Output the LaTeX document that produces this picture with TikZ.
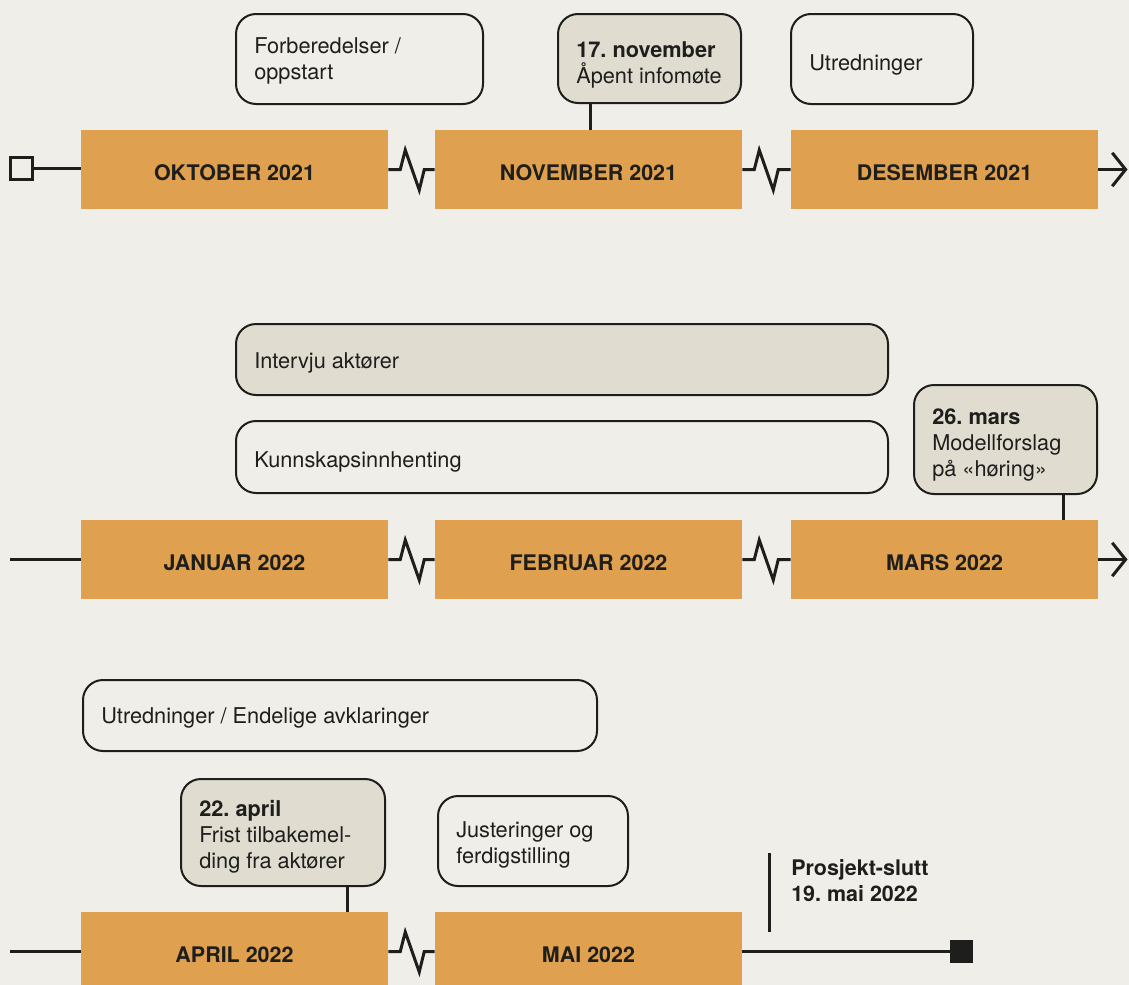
\documentclass[tikz,border=0pt]{standalone}
\usepackage{fontspec}
\setmainfont{TeX Gyre Heros}
\usetikzlibrary{arrows.meta}
\frenchspacing
\definecolor{bg}{HTML}{EFEEE8}
\definecolor{orng}{HTML}{DFA04F}
\definecolor{grayfill}{HTML}{E0DDD0}
\definecolor{ink}{HTML}{1E1E1C}
% box: [dy] name, cx, cy, w, h, style, text
\newcommand\mkbox[8][4]{%
  \pgfmathsetlengthmacro\myBW{#5*0.75pt}%
  \pgfmathsetlengthmacro\myBH{#6*0.75pt}%
  \node[#7, minimum width=\myBW, minimum height=\myBH] (#2) at (#3,#4) {};
  \node[ctext] (#2t) at ([shift={(19,#1)}]#2.west) {#8};}
\tikzset{
  month/.style={fill=orng, inner sep=0pt, minimum width=307*0.75pt, minimum height=79*0.75pt,
    text height=16pt, font=\fontsize{16.1pt}{19.5pt}\selectfont\bfseries, text=ink},
  callout/.style={draw=ink, line width=1.5pt, rounded corners=15pt, inner sep=0pt},
  ctext/.style={anchor=west, inner sep=0pt, align=left, text=ink, font=\fontsize{16.3pt}{19.5pt}\selectfont},
  wbox/.style={callout, fill=bg},
  gbox/.style={callout, fill=grayfill},
  tl/.style={draw=ink, line width=2.25pt},
  zig/.style={draw=ink, line width=2.25pt, miter limit=10},
  endarrow/.style={tl, -{Straight Barb[length=10pt, width=25pt, line width=2.25pt]}},
  stem/.style={draw=ink, line width=2.25pt},
}
\begin{document}
\begin{tikzpicture}[x=0.75pt, y=-0.75pt]
\fill[bg] (0,0) rectangle (1129,985);
\useasboundingbox (0,0) rectangle (1129,985);
\begin{scope}
\clip (0,0) rectangle (1129,985);
% ---------- Row 1 ----------
\node[month] (m1) at (234.5,169.5) {OKTOBER 2021};
\node[month] (m2) at (588.5,169.5) {NOVEMBER 2021};
\node[month] (m3) at (944.5,169.5) {DESEMBER 2021};
\node[draw=ink, line width=2.25pt, fill=bg, minimum size=16.5pt, inner sep=0pt] (s1) at (21,168.5) {};
\draw[tl] (s1.east) -- (s1.east -| m1.west);
\draw[zig] (m1.east) -- ++(12,0) -- ++(5,-19.5) -- ++(14,40) -- ++(5,-20.5) -- (m2.west);
\draw[zig] (m2.east) -- ++(12,0) -- ++(5,-19.5) -- ++(14,40) -- ++(5,-20.5) -- (m3.west);
\coordinate (e1) at (1127.5,169.5);
\draw[endarrow] (m3.east) -- (e1);
\mkbox[2]{c1}{359.5}{59}{247}{90}{wbox}{Forberedelser /\\oppstart}
\mkbox[6]{c2}{649.5}{58.5}{183}{89}{gbox}{\textbf{17. november}\\Åpent infomøte}
\mkbox[6]{c3}{882}{59}{182}{90}{wbox}{Utredninger}
\draw[stem] (590,0 |- c2.south) -- (590,0 |- m2.north);
% ---------- Row 2 ----------
\node[month] (m4) at (234.5,559.5) {JANUAR 2022};
\node[month] (m5) at (588.5,559.5) {FEBRUAR 2022};
\node[month] (m6) at (944.5,559.5) {MARS 2022};
\coordinate (b2) at (10,559.5);
\draw[tl] (b2) -- (m4.west);
\draw[zig] (m4.east) -- ++(12,0) -- ++(5,-19.5) -- ++(14,40) -- ++(5,-20.5) -- (m5.west);
\draw[zig] (m5.east) -- ++(12,0) -- ++(5,-19.5) -- ++(14,40) -- ++(5,-20.5) -- (m6.west);
\coordinate (e2) at (1127.5,559.5);
\draw[endarrow] (m6.east) -- (e2);
\mkbox[3]{c4}{562}{359.5}{652}{71}{gbox}{Intervju aktører}
\mkbox[5]{c5}{562}{457}{652}{72}{wbox}{Kunnskapsinnhenting}
\mkbox[5]{c6}{1005.5}{439.5}{183}{109}{gbox}{\textbf{26. mars}\\Modellforslag\\på «høring»}
\draw[stem] (1063,0 |- c6.south) -- (1063,0 |- m6.north);
% ---------- Row 3 ----------
\node[month] (m7) at (234.5,951.5) {APRIL 2022};
\node[month] (m8) at (588.5,951.5) {MAI 2022};
\coordinate (b3) at (10,951.5);
\draw[tl] (b3) -- (m7.west);
\draw[zig] (m7.east) -- ++(12,0) -- ++(5,-19.5) -- ++(14,40) -- ++(5,-20.5) -- (m8.west);
\node[fill=ink, minimum size=17.25pt, inner sep=0pt] (s2) at (961.5,951.5) {};
\draw[tl] (m8.east) -- (s2.west);
\mkbox[2]{c7}{340}{715.5}{514}{71}{wbox}{Utredninger / Endelige avklaringer}
\mkbox[4]{c8}{283}{832.5}{204}{107}{gbox}{\textbf{22. april}\\Frist tilbakemel-\\ding fra aktører}
\mkbox[4]{c9}{533}{841}{190}{90}{wbox}{Justeringer og\\ferdigstilling}
\draw[stem] (347,0 |- c8.south) -- (347,0 |- m7.north);
\coordinate (p1) at (769,853);
\coordinate (p2) at (769,932);
\draw[stem] (p1) -- (p2);
\node[anchor=north west, inner sep=0pt, align=left, text=ink, font=\fontsize{16.1pt}{19.5pt}\selectfont\bfseries] (ps) at (791,859) {Prosjekt-slutt\\19. mai 2022};
\end{scope}
\end{tikzpicture}
\end{document}
